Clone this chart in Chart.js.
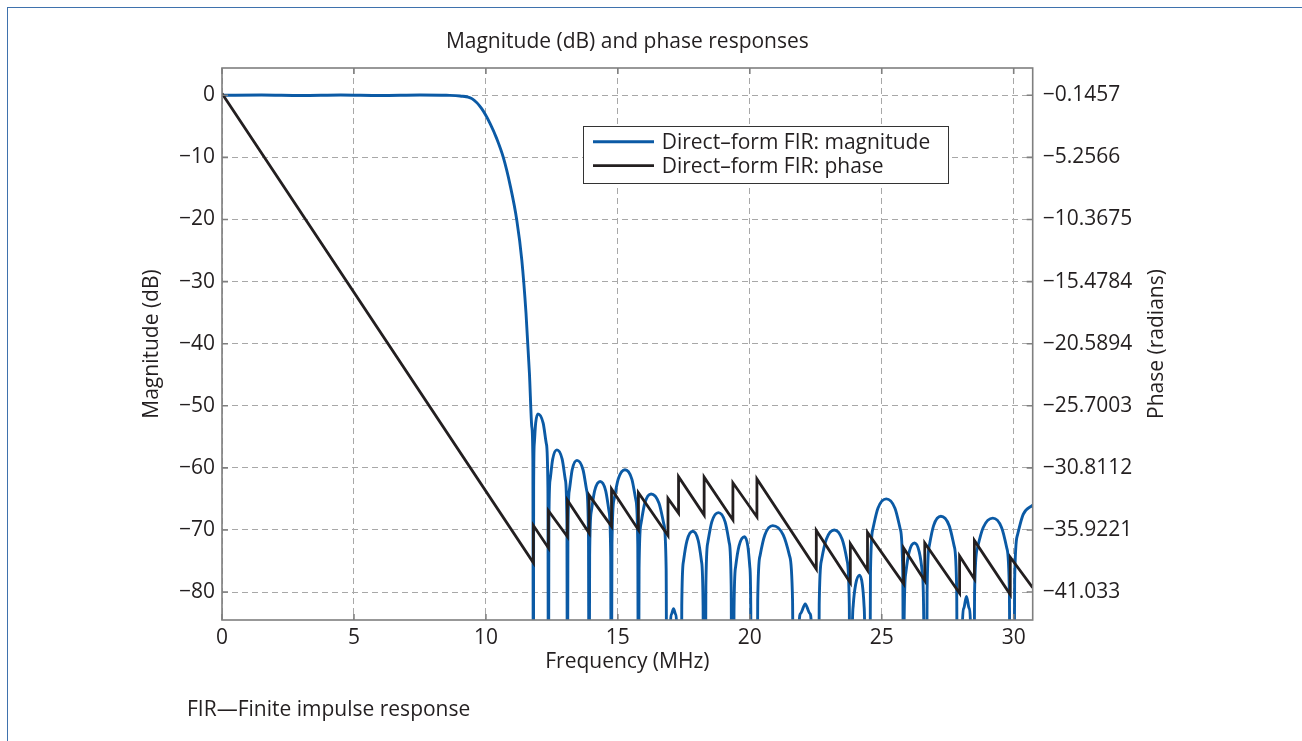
<!DOCTYPE html>
<html>
<head>
<meta charset="utf-8">
<title>Magnitude (dB) and phase responses</title>
<script src="https://cdn.jsdelivr.net/npm/chart.js@4.4.1/dist/chart.umd.min.js"></script>
<style>
  html, body { margin: 0; padding: 0; background: #fff; overflow: hidden; }
  #wrap { position: relative; width: 1302px; height: 741px; overflow: hidden; }
  #edge { position: absolute; left: 7px; top: 7px; width: 1400px; height: 800px;
          border-left: 1.5px solid #3f72ad; border-top: 1.5px solid #3f72ad; }
  #chart { position: absolute; left: 0; top: 0; }
  #note { position: absolute; left: 187px; top: 694px; font-family: "Open Sans", sans-serif;
          font-size: 21px; color: #231f20; white-space: nowrap; }
</style>
</head>
<body>
<div id="wrap">
  <div id="edge"></div>
  <canvas id="chart" width="1302" height="741"></canvas>
  <div id="note">FIR—Finite impulse response</div>
</div>
<script>
/* ---------------- DATA ---------------- */

// x ticks (MHz), left ticks (dB), right ticks (radians)
const freqTicks = [0, 5, 10, 15, 20, 25, 30];
const magTicks = [0, -10, -20, -30, -40, -50, -60, -70, -80];
const phaseTicks = [-0.1457, -5.2566, -10.3675, -15.4784, -20.5894, -25.7003, -30.8112, -35.9221, -41.033];
const phaseTickLabels = ["\u22120.1457", "\u22125.2566", "\u221210.3675", "\u221215.4784",
  "\u221220.5894", "\u221225.7003", "\u221230.8112", "\u221235.9221", "\u221241.033"];

// magnitude [MHz, dB]; zeros sit below the axis
const magResponse = [
  [0, 0], [1.5, 0.05], [3, -0.04], [4.5, 0.04], [6, -0.04], [7.5, 0.04], [8.5, 0],
  [9.02, -0.1], [9.47, -0.53], [9.84, -2.14], [10.16, -4.55], [10.41, -6.97], [10.66, -10],
  [10.92, -14.5], [11.17, -20.1], [11.36, -26.5], [11.52, -35.1], [11.65, -44.8],
  [11.74, -53.4], [11.78, -58.7], [11.8, -110],
  [11.809, -63.3], [11.834, -56.1], [11.885, -52.8], [11.97, -51.3], [12.17, -52.8], [12.29, -56.1], [12.35, -63.3], [12.37, -110],
  [12.386, -69.1], [12.434, -61.9], [12.53, -58.6], [12.69, -57.1], [12.89, -58.6], [13.01, -61.9], [13.07, -69.1], [13.09, -110],
  [13.108, -70.8], [13.162, -63.6], [13.27, -60.3], [13.45, -58.8], [13.68, -60.3], [13.818, -63.6], [13.887, -70.8], [13.91, -110],
  [13.931, -74.2], [13.994, -67], [14.12, -63.7], [14.33, -62.2], [14.54, -63.7], [14.666, -67], [14.729, -74.2], [14.75, -110],
  [14.777, -72.3], [14.856, -65.1], [15.015, -61.8], [15.27, -60.3], [15.53, -61.8], [15.68, -65.1], [15.755, -72.3], [15.78, -110],
  [15.804, -76.2], [15.876, -69], [16.02, -65.7], [16.26, -64.2], [16.56, -65.7], [16.74, -69], [16.83, -76.2], [16.86, -110],
  [16.98, -110], [16.99, -85.5], [17.03, -83.6], [17.11, -82.7], [17.19, -83.6], [17.23, -85.5], [17.24, -110],
  [17.4, -110], [17.422, -82.2], [17.488, -75], [17.62, -71.7], [17.84, -70.2], [18.045, -71.7], [18.168, -75], [18.23, -82.2], [18.25, -110],
  [18.31, -110], [18.335, -79.2], [18.41, -72], [18.56, -68.7], [18.81, -67.2], [19.065, -68.7], [19.218, -72], [19.295, -79.2], [19.32, -110],
  [19.38, -110], [19.401, -83.1], [19.464, -75.9], [19.59, -72.6], [19.8, -71.1], [19.925, -72.6], [20.0, -75.9], [20.038, -83.1], [20.05, -110],
  [20.27, -110], [20.3, -81.3], [20.39, -74.1], [20.57, -70.8], [20.87, -69.3], [21.265, -70.8], [21.502, -74.1], [21.62, -81.3], [21.66, -110],
  [21.85, -110], [21.86, -86], [21.93, -83.4], [22.1, -81.9], [22.27, -83.4], [22.34, -86], [22.35, -110],
  [22.6, -110], [22.63, -82], [22.72, -74.8], [22.9, -71.5], [23.2, -70], [23.5, -71.5], [23.68, -74.8], [23.77, -82], [23.8, -110],
  [23.86, -110], [23.875, -89.3], [23.92, -82.1], [24.01, -78.8], [24.16, -77.3], [24.265, -78.8], [24.328, -82.1], [24.36, -89.3], [24.37, -110],
  [24.54, -110], [24.572, -77], [24.666, -69.8], [24.855, -66.5], [25.17, -65], [25.5, -66.5], [25.698, -69.8], [25.797, -77], [25.83, -110],
  [25.85, -84.1], [25.912, -76.9], [26.035, -73.6], [26.24, -72.1], [26.425, -73.6], [26.536, -76.9], [26.59, -84.1], [26.61, -110],
  [26.69, -110], [26.718, -79.8], [26.8, -72.6], [26.965, -69.3], [27.24, -67.8], [27.555, -69.3], [27.744, -72.6], [27.84, -79.8], [27.87, -110],
  [28.04, -110], [28.05, -86], [28.11, -82.6], [28.21, -80.7], [28.31, -82.6], [28.37, -86], [28.38, -110],
  [28.48, -110], [28.517, -80.1], [28.626, -72.9], [28.845, -69.6], [29.21, -68.1], [29.54, -69.6], [29.738, -72.9], [29.837, -80.1], [29.87, -110],
  [30.0, -110], [30.036, -78], [30.144, -70.8], [30.36, -67.5], [30.72, -66]
];

// phase [MHz, rad], corners of the wrapped linear phase
const phaseResponse = [
  [0, 0],
  [11.8, -38.63], [11.8, -35.56], [12.37, -37.4], [12.37, -34.34],
  [13.09, -36.48], [13.09, -33.47], [13.91, -36.18], [13.91, -33.06],
  [14.76, -35.62], [14.76, -32.55], [15.78, -35.92], [15.78, -32.86],
  [16.9, -36.38], [16.9, -33.32], [17.3, -34.54], [17.3, -31.53],
  [18.27, -34.7], [18.27, -31.58], [19.36, -35.1], [19.36, -32.04],
  [20.27, -34.85], [20.27, -31.73], [22.52, -39.14], [22.52, -35.97],
  [23.81, -40.27], [23.81, -37.05], [24.46, -39.24], [24.46, -36.13],
  [25.83, -40.35], [25.83, -37.4], [26.63, -40.1], [26.63, -36.99],
  [27.95, -41.14], [27.95, -38.07], [28.51, -39.96], [28.51, -36.79],
  [29.87, -41.24], [29.87, -38.17], [30.72, -40.68]
];

const MAG_MIN = -84.5;
const MAG_MAX = 4.4;
const FREQ_MAX = 30.72;

/* ---------------- STYLE ---------------- */

const FONT = '"Open Sans", sans-serif';
const TEXT = "#231f20";
const BLUE = "#0b5aa5";
const GRID = "#a8a8a8";

Chart.defaults.font.family = FONT;
Chart.defaults.font.size = 21;
Chart.defaults.color = TEXT;

// right axis is aligned so its ticks sit on the left ticks
const k = (phaseTicks[8] - phaseTicks[0]) / (magTicks[8] - magTicks[0]);
const phaseMin = phaseTicks[0] + k * (MAG_MIN - magTicks[0]);
const phaseMax = phaseTicks[0] + k * (MAG_MAX - magTicks[0]);

function setTicks(list) {
  return (axis) => {
    axis.ticks = list.map((v) => ({ value: v }));
  };
}

function minus(v) {
  return v < 0 ? "\u2212" + Math.abs(v) : String(v);
}

/* ---------------- FRAME + LEGEND ---------------- */

const framePlugin = {
  id: "frame",
  afterDatasetsDraw(chart) {
    const { ctx, chartArea: a, scales } = chart;
    ctx.save();
    ctx.strokeStyle = "#7f7f7f";
    ctx.lineWidth = 1.6;
    ctx.strokeRect(a.left, a.top, a.right - a.left, a.bottom - a.top);

    ctx.beginPath();
    scales.x.ticks.forEach((t) => {
      const px = scales.x.getPixelForValue(t.value);
      ctx.moveTo(px, a.bottom);
      ctx.lineTo(px, a.bottom - 6);
      ctx.moveTo(px, a.top);
      ctx.lineTo(px, a.top + 6);
    });
    scales.y.ticks.forEach((t) => {
      const py = scales.y.getPixelForValue(t.value);
      ctx.moveTo(a.left, py);
      ctx.lineTo(a.left + 6, py);
    });
    scales.y2.ticks.forEach((t) => {
      const py = scales.y2.getPixelForValue(t.value);
      ctx.moveTo(a.right, py);
      ctx.lineTo(a.right - 6, py);
    });
    ctx.stroke();
    ctx.restore();
  },
  afterDraw(chart) {
    const { ctx, chartArea: a } = chart;
    ctx.save();

    // right axis title reads bottom to top, like MATLAB
    ctx.translate(1157.5, (a.top + a.bottom) / 2);
    ctx.rotate(-Math.PI / 2);
    ctx.font = "21px " + FONT;
    ctx.fillStyle = TEXT;
    ctx.textAlign = "center";
    ctx.textBaseline = "middle";
    ctx.fillText("Phase (radians)", 0, 0);
    ctx.setTransform(1, 0, 0, 1, 0, 0);

    // legend box
    const lx = 583, ly = 126, lw = 365, lh = 57;
    ctx.fillStyle = "#fff";
    ctx.fillRect(lx, ly, lw, lh);
    ctx.strokeStyle = "#333";
    ctx.lineWidth = 1;
    ctx.strokeRect(lx + 0.5, ly + 0.5, lw, lh);

    ctx.textAlign = "left";
    ctx.textBaseline = "alphabetic";
    chart.data.datasets.forEach((ds, i) => {
      const cy = 141.7 + i * 24;
      ctx.beginPath();
      ctx.strokeStyle = ds.borderColor;
      ctx.lineWidth = ds.borderWidth;
      ctx.moveTo(593, cy);
      ctx.lineTo(654, cy);
      ctx.stroke();
      ctx.fillStyle = TEXT;
      ctx.fillText(ds.label, 661.7, cy + 7);
    });
    ctx.restore();
  },
};

/* ---------------- CHART ---------------- */

new Chart(document.getElementById("chart"), {
  type: "line",
  data: {
    datasets: [
      {
        label: "Direct\u2013form FIR: magnitude",
        data: magResponse.map(([x, y]) => ({ x, y })),
        borderColor: BLUE,
        borderWidth: 2.9,
        pointRadius: 0,
        cubicInterpolationMode: "monotone",
        yAxisID: "y",
        order: 1,
      },
      {
        label: "Direct\u2013form FIR: phase",
        data: phaseResponse.map(([x, y]) => ({ x, y })),
        borderColor: TEXT,
        borderWidth: 2.8,
        pointRadius: 0,
        tension: 0,
        yAxisID: "y2",
        order: 0,
      },
    ],
  },
  options: {
    responsive: false,
    animation: false,
    events: [],
    layout: { padding: { left: 135.4, right: 0, top: 0, bottom: 61.9 } },
    plugins: {
      legend: { display: false },
      tooltip: { enabled: false },
      title: {
        display: true,
        text: "Magnitude (dB) and phase responses",
        fullSize: false,
        color: TEXT,
        font: { size: 21, weight: "normal" },
        padding: { top: 29.4, bottom: 13.4 },
      },
    },
    scales: {
      x: {
        type: "linear",
        min: 0,
        max: FREQ_MAX,
        afterBuildTicks: setTicks(freqTicks),
        afterFit: (axis) => { axis.height = 59.1; },
        ticks: { padding: 5, autoSkip: false, maxRotation: 0, callback: (v) => String(v) },
        grid: { color: GRID, lineWidth: 1, drawTicks: false },
        border: { display: false, dash: [6, 4] },
        title: { display: true, text: "Frequency (MHz)", padding: { top: 4, bottom: 4 } },
      },
      y: {
        type: "linear",
        position: "left",
        min: MAG_MIN,
        max: MAG_MAX,
        afterBuildTicks: setTicks(magTicks),
        afterFit: (axis) => { axis.width = 222 - 135.4; },
        ticks: { padding: 7, autoSkip: false, callback: (v) => minus(v) },
        grid: { color: GRID, lineWidth: 1, drawTicks: false },
        border: { display: false, dash: [6, 4] },
        title: { display: true, text: "Magnitude (dB)", padding: { top: 4, bottom: 4 } },
      },
      y2: {
        type: "linear",
        position: "right",
        min: phaseMin,
        max: phaseMax,
        afterBuildTicks: setTicks(phaseTicks),
        afterFit: (axis) => { axis.width = 1302 - 1032.7; },
        ticks: { padding: 10, autoSkip: false, callback: (v, i) => phaseTickLabels[i] },
        grid: { display: false, drawTicks: false },
        border: { display: false },
      },
    },
  },
  plugins: [framePlugin],
});
</script>
</body>
</html>
